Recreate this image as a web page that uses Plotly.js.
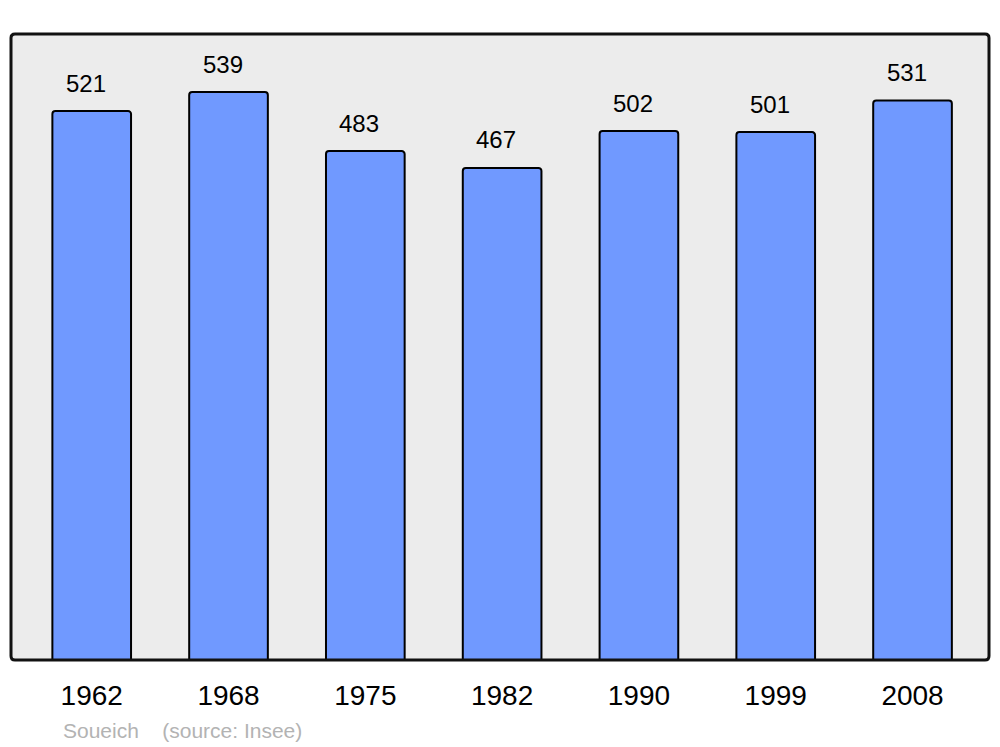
<!DOCTYPE html>
<html>
<head>
<meta charset="utf-8">
<script src="https://cdn.plot.ly/plotly-3.0.1.min.js"></script>
<style>html,body{margin:0;padding:0;background:#fff;}#chart{width:1000px;height:747px;}</style>
</head>
<body>
<div id="chart"></div>
<script>
var years = ["1962", "1968", "1975", "1982", "1990", "1999", "2008"];
var population = [521, 539, 483, 467, 502, 501, 531];
var sourceText = "Soueich&nbsp;&nbsp;&nbsp;&nbsp;(source: Insee)";

var font = "Liberation Sans, Arial, sans-serif";

var trace = {
  type: "bar",
  x: years,
  y: population,
  width: 0.575,
  marker: {color: "#7099ff", line: {color: "#000000", width: 2}, cornerradius: 3},
  hoverinfo: "none"
};

var annotations = [];
for (var i = 0; i < years.length; i++) {
  annotations.push({
    x: i, y: population[i], xref: "x", yref: "y",
    text: String(population[i]), showarrow: false,
    xshift: -6, yshift: 28, xanchor: "center", yanchor: "middle",
    font: {family: font, size: 24, color: "#000000"}
  });
}
annotations.push({
  xref: "paper", yref: "paper", x: 50 / 978, y: -(730 - 660) / 626,
  xanchor: "left", yanchor: "middle", showarrow: false,
  text: sourceText,
  font: {family: font, size: 21, color: "#b3b3b3"}
});

var W = 978, H = 626, r = 4;
var rx = r / W, ry = r / H;
var framePath = "M " + rx + " 0 L " + (1 - rx) + " 0 Q 1 0 1 " + ry +
  " L 1 " + (1 - ry) + " Q 1 1 " + (1 - rx) + " 1" +
  " L " + rx + " 1 Q 0 1 0 " + (1 - ry) +
  " L 0 " + ry + " Q 0 0 " + rx + " 0 Z";

var layout = {
  width: 1000, height: 747,
  margin: {l: 11, r: 11, t: 34, b: 87, pad: 0},
  paper_bgcolor: "#ffffff",
  plot_bgcolor: "#ececec",
  showlegend: false,
  xaxis: {
    type: "category",
    range: [-0.590, 6.559],
    showgrid: false, zeroline: false, showline: false,
    ticks: "", ticklabelstandoff: 16,
    tickfont: {family: font, size: 28, color: "#000"},
    fixedrange: true
  },
  yaxis: {
    range: [0, 594.1],
    showgrid: false, zeroline: false, showline: false,
    showticklabels: false, ticks: "",
    fixedrange: true
  },
  shapes: [{
    type: "path", xref: "paper", yref: "paper",
    path: framePath,
    line: {color: "#111", width: 3}, layer: "above"
  }],
  annotations: annotations
};

Plotly.newPlot("chart", [trace], layout, {displayModeBar: false, staticPlot: true});
</script>
</body>
</html>
